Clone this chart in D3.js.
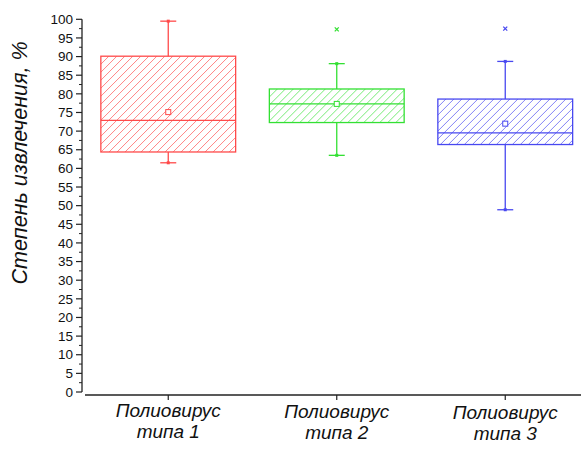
<!DOCTYPE html>
<html><head><meta charset="utf-8">
<script src="https://cdn.jsdelivr.net/npm/d3@7/dist/d3.min.js"></script>
<style>body{margin:0;background:#fff}svg{display:block}text{font-family:"Liberation Sans",Arial,sans-serif}</style>
</head><body><svg id="c" width="581" height="454"></svg>
<script>
const categories = ["Полиовирус типа 1", "Полиовирус типа 2", "Полиовирус типа 3"];
const labelLines = [["Полиовирус","типа 1"],["Полиовирус","типа 2"],["Полиовирус","типа 3"]];
const whiskerLow  = [61.5, 63.5, 48.9];
const q1          = [64.4, 72.3, 66.4];
const median      = [72.9, 77.3, 69.5];
const q3          = [90.1, 81.3, 78.6];
const whiskerHigh = [99.5, 88.1, 88.7];
const means       = [75.1, 77.3, 72.0];
const outliers    = [[], [97.3], [97.5]];
const colors      = ["#ff4a4a", "#33e033", "#4848f0"];
const yTicks = d3.range(0, 101, 5);
const yMinorTicks = d3.range(2.5, 100, 5);
const yTitle = "Степень извлечения, %";

const svg = d3.select("#c");
const y = d3.scaleLinear().domain([0,100]).range([392, 19.3]);
const x = d3.scaleBand().domain(categories).range([84, 589.5]).padding(0);
const bw = x.bandwidth()*0.8;
const cx = c => x(c) + x.bandwidth()/2;
const defs = svg.append("defs");

// y axis
const ya = svg.append("g").attr("transform","translate(82,0)");
ya.append("line").attr("x1",0).attr("x2",0).attr("y1",y(100)).attr("y2",y(0)).attr("stroke","#222").attr("stroke-width",1.3);
ya.selectAll("line.mj").data(yTicks).join("line").attr("class","mj").attr("x1",-6).attr("x2",0).attr("y1",d=>y(d)).attr("y2",d=>y(d)).attr("stroke","#222").attr("stroke-width",1.2);
ya.selectAll("line.mn").data(yMinorTicks).join("line").attr("class","mn").attr("x1",-3).attr("x2",0).attr("y1",d=>y(d)).attr("y2",d=>y(d)).attr("stroke","#222").attr("stroke-width",1);
ya.selectAll("text").data(yTicks).join("text").attr("x",-9).attr("y",d=>y(d)).attr("dy","0.35em")
  .attr("text-anchor","end").attr("font-size",13.5).attr("fill","#111").text(d=>d);

// x axis
svg.append("line").attr("x1",85).attr("x2",581).attr("y1",395).attr("y2",395).attr("stroke","#222").attr("stroke-width",1.3);
svg.selectAll("line.xt").data(categories).join("line").attr("class","xt").attr("x1",cx).attr("x2",cx).attr("y1",395).attr("y2",400).attr("stroke","#222").attr("stroke-width",1.2);
const xl = svg.selectAll("g.xl").data(categories).join("g").attr("class","xl")
  .attr("transform",(c,i)=>`translate(${cx(c)},${417+i})`);
xl.each(function(c,i){
  d3.select(this).selectAll("text").data(labelLines[i]).join("text")
    .attr("x",0).attr("y",(d,j)=>j*21).attr("text-anchor","middle")
    .attr("font-size",19).attr("font-style","italic").attr("fill","#111").text(d=>d);
});

// y title
svg.append("text").attr("transform","translate(27,163) rotate(-90)").attr("text-anchor","middle")
  .attr("font-size",21.5).attr("font-style","italic").attr("fill","#111").text(yTitle);

// boxes
categories.forEach((c,i)=>{
  const g = svg.append("g");
  const col = colors[i];
  const xc = cx(c);
  const sw = 1.3;
  const x0 = xc-bw/2, x1 = xc+bw/2, yt = y(q3[i]), yb = y(q1[i]);
  defs.append("clipPath").attr("id","cl"+i).append("rect").attr("x",x0).attr("y",yt).attr("width",bw).attr("height",yb-yt);
  const h = yb-yt;
  const starts = d3.range(x0 - h, x1 + 8, 8);
  g.append("g").attr("clip-path",`url(#cl${i})`).selectAll("line").data(starts).join("line")
    .attr("x1",d=>d).attr("y1",yb).attr("x2",d=>d+h).attr("y2",yt)
    .attr("stroke",col).attr("stroke-width",0.9).attr("stroke-opacity",0.75);
  g.append("line").attr("x1",xc).attr("x2",xc).attr("y1",yt).attr("y2",y(whiskerHigh[i])).attr("stroke",col).attr("stroke-width",sw);
  g.append("line").attr("x1",xc).attr("x2",xc).attr("y1",yb).attr("y2",y(whiskerLow[i])).attr("stroke",col).attr("stroke-width",sw);
  [whiskerHigh[i], whiskerLow[i]].forEach(v=>{
    g.append("line").attr("x1",xc-8).attr("x2",xc+8).attr("y1",y(v)).attr("y2",y(v)).attr("stroke",col).attr("stroke-width",sw);
    g.append("rect").attr("x",xc-1.5).attr("y",y(v)-1.5).attr("width",3).attr("height",3).attr("fill",col);
  });
  g.append("rect").attr("x",x0).attr("y",yt).attr("width",bw).attr("height",h)
    .attr("fill","none").attr("stroke",col).attr("stroke-width",sw);
  g.append("line").attr("x1",x0).attr("x2",x1).attr("y1",y(median[i])).attr("y2",y(median[i])).attr("stroke",col).attr("stroke-width",sw);
  g.append("rect").attr("x",xc-2.5).attr("y",y(means[i])-2.5).attr("width",5).attr("height",5).attr("fill","#fff").attr("stroke",col).attr("stroke-width",1);
  outliers[i].forEach(v=>{
    g.append("path").attr("d",`M${xc-2},${y(v)-2}L${xc+2},${y(v)+2}M${xc-2},${y(v)+2}L${xc+2},${y(v)-2}`).attr("stroke",col).attr("stroke-width",1.3);
  });
});
</script></body></html>
